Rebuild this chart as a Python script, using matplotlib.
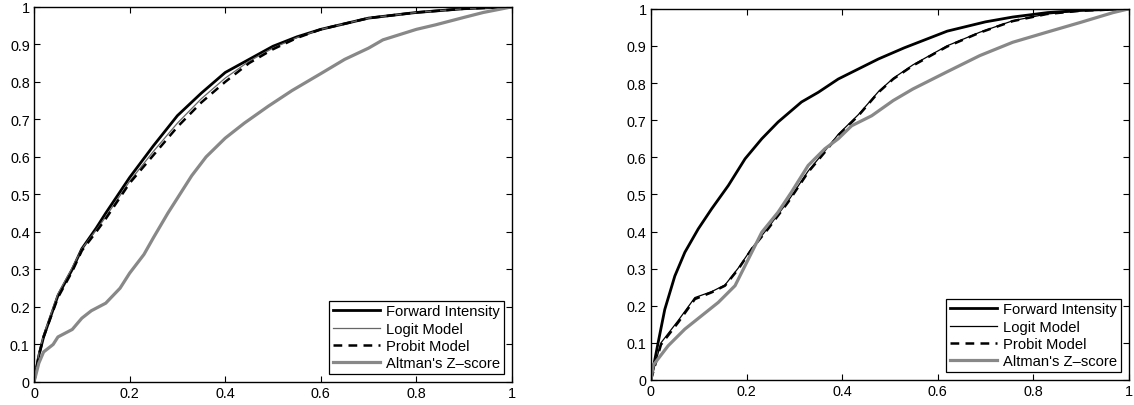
import matplotlib
matplotlib.use('Agg')
import matplotlib.pyplot as plt

plt.rcParams['font.family'] = ['Liberation Sans', 'DejaVu Sans']

# left panel
fi_x_l = [0, 0.01, 0.02, 0.05, 0.08, 0.1, 0.13, 0.15, 0.2, 0.25, 0.3, 0.35, 0.4, 0.45, 0.5, 0.55, 0.6, 0.7, 0.8, 0.9, 1.0]
fi_y_l = [0, 0.07, 0.12, 0.23, 0.30, 0.355, 0.41, 0.45, 0.545, 0.63, 0.71, 0.77, 0.825, 0.86, 0.895, 0.92, 0.94, 0.97, 0.985, 0.995, 1.0]
lg_x_l = [0, 0.01, 0.02, 0.05, 0.08, 0.1, 0.13, 0.15, 0.2, 0.25, 0.3, 0.35, 0.4, 0.45, 0.5, 0.55, 0.6, 0.7, 0.8, 0.9, 1.0]
lg_y_l = [0, 0.075, 0.125, 0.235, 0.305, 0.355, 0.405, 0.44, 0.535, 0.615, 0.69, 0.755, 0.81, 0.855, 0.89, 0.918, 0.94, 0.97, 0.985, 0.995, 1.0]
pb_y_l = [0, 0.07, 0.12, 0.225, 0.295, 0.35, 0.40, 0.435, 0.53, 0.605, 0.68, 0.745, 0.80, 0.85, 0.887, 0.917, 0.94, 0.97, 0.985, 0.995, 1.0]
az_x_l = [0, 0.01, 0.02, 0.04, 0.05, 0.08, 0.1, 0.12, 0.15, 0.18, 0.2, 0.23, 0.25, 0.28, 0.3, 0.33, 0.36, 0.4, 0.44, 0.49, 0.54, 0.6, 0.65, 0.7, 0.73, 0.8, 0.84, 0.9, 0.94, 1.0]
az_y_l = [0, 0.05, 0.08, 0.10, 0.12, 0.14, 0.17, 0.19, 0.21, 0.25, 0.29, 0.34, 0.385, 0.45, 0.49, 0.55, 0.6, 0.65, 0.69, 0.735, 0.777, 0.822, 0.86, 0.89, 0.912, 0.94, 0.952, 0.972, 0.985, 1.0]

# right panel
fi_x_r = [0, 0.015, 0.029, 0.05, 0.071, 0.099, 0.127, 0.162, 0.197, 0.232, 0.266, 0.315, 0.35, 0.392, 0.434, 0.476, 0.53, 0.62, 0.7, 0.757, 0.83, 0.9, 1.0]
fi_y_r = [0, 0.10, 0.19, 0.28, 0.344, 0.407, 0.461, 0.524, 0.596, 0.65, 0.695, 0.749, 0.775, 0.811, 0.838, 0.865, 0.895, 0.94, 0.965, 0.978, 0.99, 0.996, 1.0]
lg_x_r = [0, 0.021, 0.057, 0.092, 0.127, 0.155, 0.183, 0.211, 0.245, 0.287, 0.329, 0.364, 0.392, 0.434, 0.476, 0.507, 0.548, 0.619, 0.688, 0.757, 0.828, 0.9, 1.0]
lg_y_r = [0, 0.10, 0.16, 0.222, 0.238, 0.256, 0.302, 0.355, 0.41, 0.482, 0.563, 0.617, 0.662, 0.715, 0.777, 0.813, 0.849, 0.90, 0.937, 0.968, 0.986, 0.995, 1.0]
pb_y_r = [0, 0.095, 0.155, 0.218, 0.236, 0.254, 0.299, 0.353, 0.407, 0.479, 0.56, 0.614, 0.659, 0.712, 0.775, 0.811, 0.847, 0.898, 0.936, 0.967, 0.986, 0.995, 1.0]
az_x_r = [0, 0.005, 0.036, 0.071, 0.106, 0.141, 0.176, 0.204, 0.232, 0.266, 0.294, 0.329, 0.364, 0.392, 0.42, 0.462, 0.507, 0.548, 0.619, 0.688, 0.757, 0.828, 0.9, 0.967, 1.0]
az_y_r = [0, 0.04, 0.092, 0.137, 0.173, 0.209, 0.254, 0.326, 0.398, 0.452, 0.506, 0.578, 0.623, 0.65, 0.685, 0.712, 0.753, 0.784, 0.83, 0.874, 0.91, 0.937, 0.964, 0.99, 1.0]

labels = ['Forward Intensity', 'Logit Model', 'Probit Model', "Altman's Z\u2013score"]
ticks = [0, 0.2, 0.4, 0.6, 0.8, 1]
yticks = [0, 0.1, 0.2, 0.3, 0.4, 0.5, 0.6, 0.7, 0.8, 0.9, 1]

fig = plt.figure(figsize=(11.34, 4.06), dpi=100)
ax1 = fig.add_axes([0.030, 0.0567, 0.4215, 0.924])
ax2 = fig.add_axes([0.574, 0.0617, 0.4215, 0.914])


def draw(ax, fx, fy, lx, ly, py, ax_x, ay, logit_color):
    ax.plot(fx, fy, color='black', lw=2.0, label=labels[0])
    ax.plot(lx, ly, color=logit_color, lw=0.9, label=labels[1])
    ax.plot(lx, py, color='black', lw=1.8, ls=(0, (3.5, 2.5)), label=labels[2])
    ax.plot(ax_x, ay, color='#888888', lw=2.3, label=labels[3])
    ax.set_xlim(0, 1)
    ax.set_ylim(0, 1)
    ax.set_xticks(ticks)
    ax.set_xticklabels(['0', '0.2', '0.4', '0.6', '0.8', '1'])
    ax.set_yticks(yticks)
    ax.set_yticklabels(['0'] + ['0.%d' % i for i in range(1, 10)] + ['1'])
    ax.tick_params(direction='in', top=True, right=True, length=4, width=0.8,
                   labelsize=10.4, pad=3)
    for s in ax.spines.values():
        s.set_linewidth(1.0)
    leg = ax.legend(loc='lower right', fontsize=10.6, fancybox=False,
                    edgecolor='black', framealpha=1, handlelength=3.2,
                    handletextpad=0.4, labelspacing=0.22, borderpad=0.25,
                    borderaxespad=0.55)
    leg.get_frame().set_linewidth(0.9)


draw(ax1, fi_x_l, fi_y_l, lg_x_l, lg_y_l, pb_y_l, az_x_l, az_y_l, '#666666')
draw(ax2, fi_x_r, fi_y_r, lg_x_r, lg_y_r, pb_y_r, az_x_r, az_y_r, 'black')

fig.savefig('out.png', dpi=100)
